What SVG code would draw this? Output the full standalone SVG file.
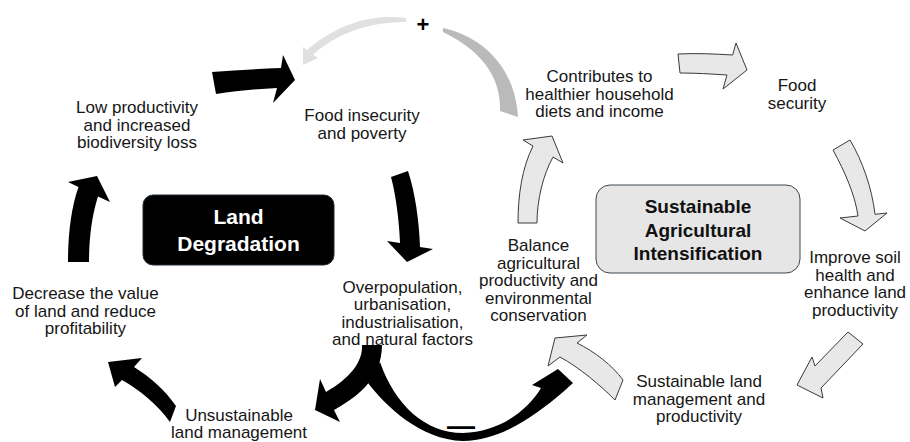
<svg xmlns="http://www.w3.org/2000/svg" width="910" height="442" viewBox="0 0 910 442">
  <style>
    .lbl { font-family: "Liberation Sans", Arial, sans-serif; font-size: 17px; fill: #161616; text-anchor: middle; }
    .hdr { font-family: "Liberation Sans", Arial, sans-serif; font-weight: bold; text-anchor: middle; }
    .dark { fill: #000000; }
    .pale { fill: #e8e8e8; stroke: #3a3a3a; stroke-width: 1; stroke-linejoin: miter; }
    .sign { font-family: "Liberation Sans", Arial, sans-serif; font-weight: bold; fill: #000; text-anchor: middle; }
  </style>
  <rect width="910" height="442" fill="#ffffff"/>

  <!-- connectors -->
  <g id="connectors">
    <!-- degradation loop -->
    <path class="dark" d="M 212,72 C 235,70 258,69 281,68 L 283,55 L 295,80 L 273,103 L 277,88 C 256,89 236,91 216,94 Z"/>
    <path class="dark" d="M 391,177 C 396,196 399,220 400,243 L 387,241 L 407,262 L 433,249 L 420,247 C 419,220 415,192 408,171 Z"/>
    <path class="dark" d="M 368,383 C 385,405 420,440 463,441 C 500,441 535,416 563,392 L 573,383 L 558,369 L 532,385 L 541,388 C 528,410 500,432 463,433 C 425,433 395,405 380,362 Z"/>
    <path class="dark" d="M 362,345 L 382,345 C 382,380 355,398 334,410 L 340,422 L 315,410 L 320,379 L 326,392 C 350,378 363,362 362,345 Z"/>
    <path class="dark" d="M 176,406 L 170,422 C 158,405 140,390 122,380 L 115,387 L 108,362 L 142,358 L 134,367 C 150,377 165,390 176,406 Z"/>
    <path class="dark" d="M 68,262 C 68,235 71,208 78.5,187 L 68,182 L 97,176 L 110,202 L 98,196.4 C 92,215 89,238 89,262 Z"/>

    <!-- intensification loop -->
    <path class="pale" d="M 518,223 C 518,195 522,168 533,146 L 523,140 L 552,136 L 563,163 L 553,157 C 543,175 537,200 537,223 Z"/>
    <path class="pale" d="M 678,54 C 697,53 715,54 732.6,55 L 736,43 L 747,70 L 723,89 L 727,75 C 711,74 696,73 680,73 Z"/>
    <path class="pale" d="M 833,150 C 845,172 855,195 858,216 L 840,218 L 865,231 L 887,213 L 875,214.3 C 872,188 862,160 850,140 Z"/>
    <path class="pale" d="M 848,332 L 863,344 L 821,388 L 823,398 L 797,385 L 812,357 L 815,366 Z"/>
    <path class="pale" d="M 623,380 L 615,400 C 600,385 580,368 560,357 L 548,366 L 555,338 L 587,335 L 577,343 C 595,352 612,365 623,380 Z"/>

    <!-- feedback arcs -->
    <path fill="#bababa" d="M 443,28 C 480,36 515,65 518,117 L 500,111 C 501,85 490,55 443,32 Z"/>
    <path fill="#e0e0e0" d="M 406,18 C 380,15 345,18 307,50 L 303,47 L 303,65 L 318,58 L 313,54.5 C 345,27 380,22 406,22 Z"/>
    <text class="sign" x="423" y="32" font-size="22">+</text>
    <text class="sign" x="461" y="435" font-size="28">—</text>
  </g>

  <!-- hub boxes -->
  <g id="land-degradation">
    <rect x="143" y="195" width="191" height="70" rx="10" fill="#000000" stroke="#1e2a36" stroke-width="1"/>
    <text class="hdr" x="238.5" y="223.5" font-size="21" fill="#ffffff">Land</text>
    <text class="hdr" x="238.5" y="250.5" font-size="21" fill="#ffffff">Degradation</text>
  </g>
  <g id="sustainable-intensification">
    <rect x="596" y="185" width="204" height="88" rx="14" fill="#e6e6e6" stroke="#3c4650" stroke-width="1"/>
    <text class="hdr" x="698" y="213" font-size="19" fill="#111111">Sustainable</text>
    <text class="hdr" x="698" y="236.7" font-size="19" fill="#111111">Agricultural</text>
    <text class="hdr" x="698" y="260.4" font-size="19" fill="#111111">Intensification</text>
  </g>

  <!-- degradation loop labels -->
  <g id="low-productivity">
    <text class="lbl" x="137" y="113">Low productivity</text>
    <text class="lbl" x="137" y="130.5">and increased</text>
    <text class="lbl" x="137" y="148">biodiversity loss</text>
  </g>
  <g id="food-insecurity">
    <text class="lbl" x="362" y="121">Food insecurity</text>
    <text class="lbl" x="362" y="138.5">and poverty</text>
  </g>
  <g id="overpopulation">
    <text class="lbl" x="402.5" y="292.5">Overpopulation,</text>
    <text class="lbl" x="402.5" y="310">urbanisation,</text>
    <text class="lbl" x="402.5" y="327.5">industrialisation,</text>
    <text class="lbl" x="402.5" y="345">and natural factors</text>
  </g>
  <g id="unsustainable">
    <text class="lbl" x="239" y="420.5">Unsustainable</text>
    <text class="lbl" x="239" y="438">land management</text>
  </g>
  <g id="decrease-value">
    <text class="lbl" x="85.5" y="299">Decrease the value</text>
    <text class="lbl" x="85.5" y="316.5">of land and reduce</text>
    <text class="lbl" x="85.5" y="334">profitability</text>
  </g>

  <!-- intensification loop labels -->
  <g id="contributes">
    <text class="lbl" x="599.5" y="82">Contributes to</text>
    <text class="lbl" x="599.5" y="99.5">healthier household</text>
    <text class="lbl" x="599.5" y="117">diets and income</text>
  </g>
  <g id="food-security">
    <text class="lbl" x="797" y="91">Food</text>
    <text class="lbl" x="797" y="108.5">security</text>
  </g>
  <g id="improve-soil">
    <text class="lbl" x="855" y="263">Improve soil</text>
    <text class="lbl" x="855" y="280.5">health and</text>
    <text class="lbl" x="855" y="298">enhance land</text>
    <text class="lbl" x="855" y="315.5">productivity</text>
  </g>
  <g id="sustainable-land">
    <text class="lbl" x="699" y="387">Sustainable land</text>
    <text class="lbl" x="699" y="404.5">management and</text>
    <text class="lbl" x="699" y="422">productivity</text>
  </g>
  <g id="balance">
    <text class="lbl" x="538.5" y="251">Balance</text>
    <text class="lbl" x="538.5" y="268.5">agricultural</text>
    <text class="lbl" x="538.5" y="286">productivity and</text>
    <text class="lbl" x="538.5" y="303.5">environmental</text>
    <text class="lbl" x="538.5" y="321">conservation</text>
  </g>
</svg>
